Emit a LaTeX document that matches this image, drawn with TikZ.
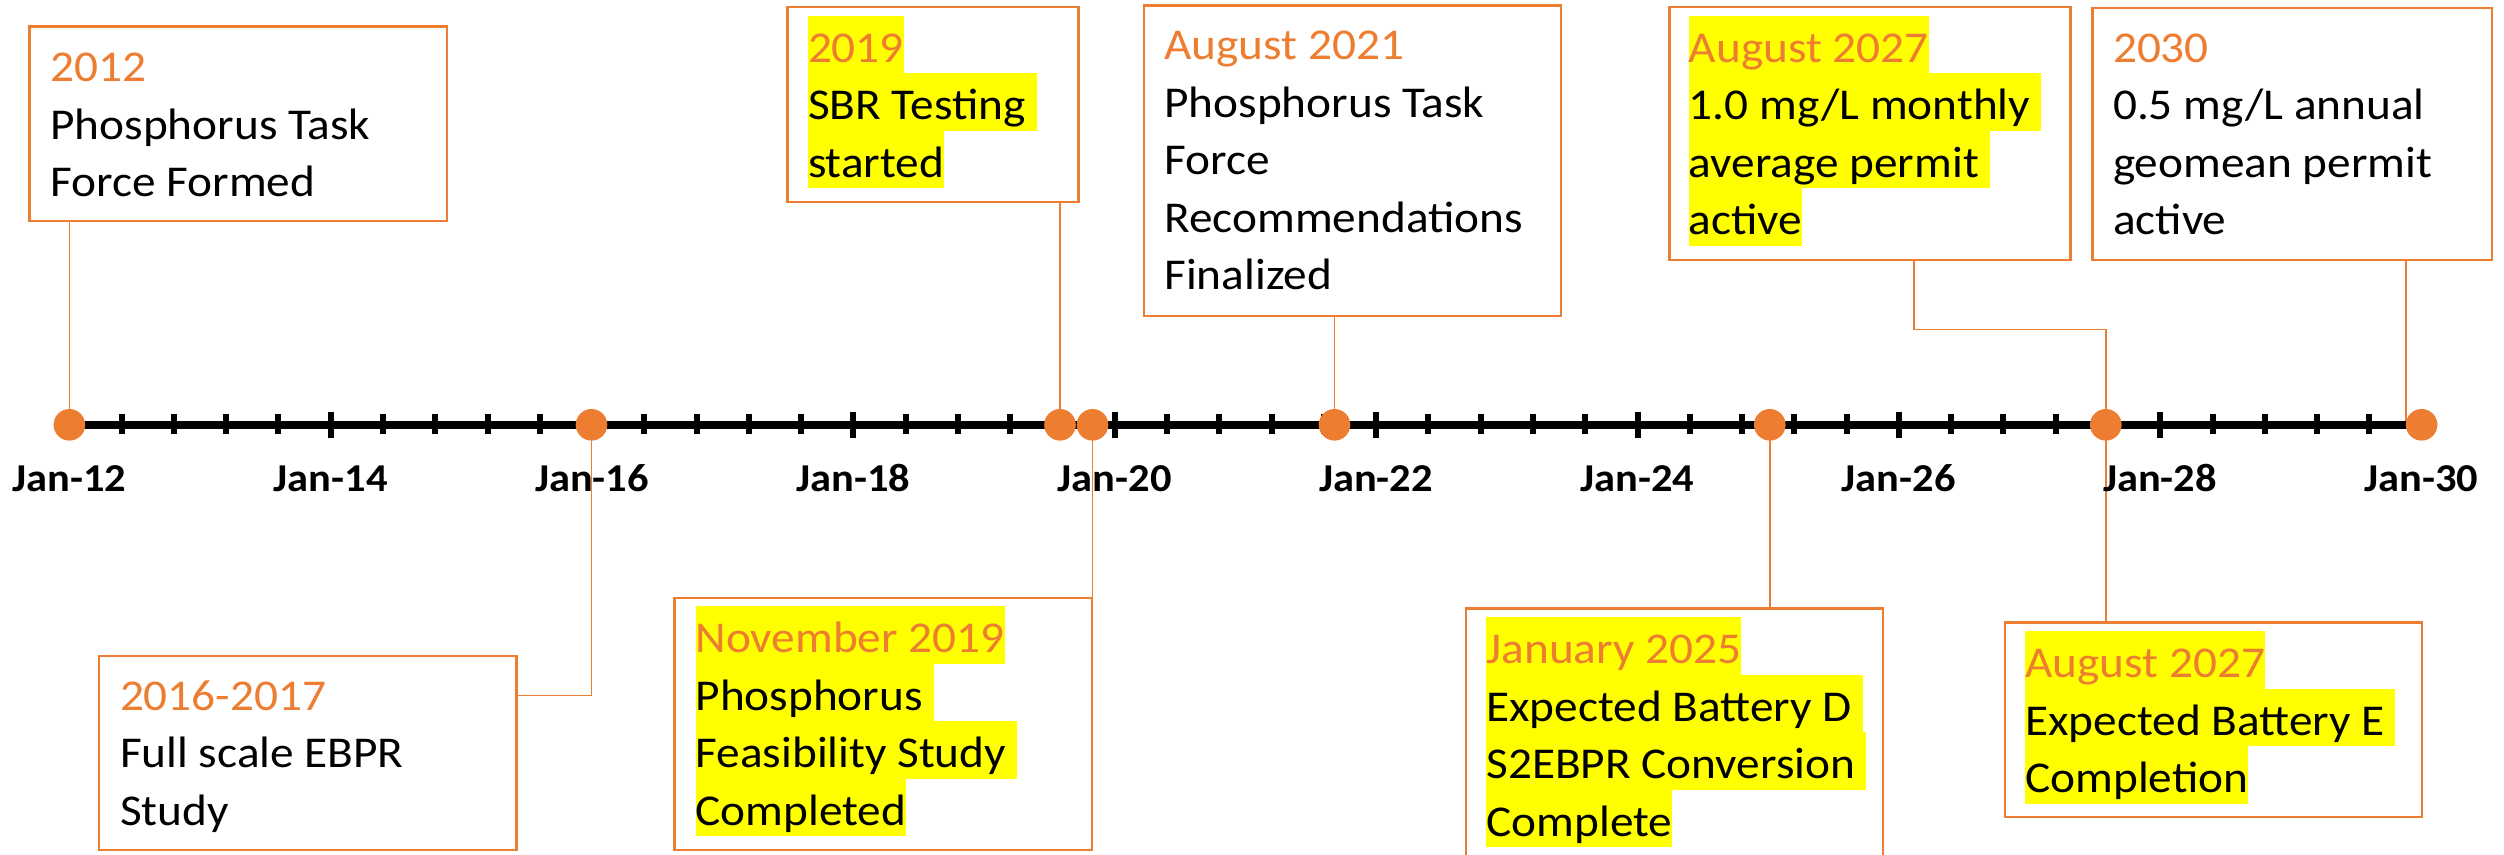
\documentclass[tikz,border=0pt]{standalone}
\usepackage{fontspec}
\setmainfont{Carlito}
\usepackage{graphicx}
\usetikzlibrary{fit}
\definecolor{tlorange}{RGB}{237,125,49}
\definecolor{hlyellow}{RGB}{255,255,0}
\newcommand{\sx}[1]{\scalebox{1.075}[1]{#1}}
\newcommand{\tsp}{\hspace{0.23em}}
\tikzset{
  box/.style={draw=tlorange, line width=1.2pt, fill=white, inner sep=0pt},
  conn/.style={draw=tlorange, line width=0.7pt},
  dot/.style={circle, fill=tlorange, inner sep=0pt, minimum size=15.8pt},
  txt/.style={inner sep=0pt, anchor=base west, font=\fontsize{22pt}{27pt}\selectfont},
  hl/.style={txt, fill=hlyellow, text height=23.25pt, text depth=5.5pt},
  dt/.style={text=tlorange},
  axl/.style={inner sep=0pt, anchor=base, font=\fontsize{19.75pt}{24pt}\selectfont\bfseries},
  minortick/.style={line width=3pt, black},
  majortick/.style={line width=3pt, black},
}
\begin{document}
\begin{tikzpicture}[x=0.5pt,y=-0.5pt]
\useasboundingbox (0,0) rectangle (2504,855);
\clip (0,0) rectangle (2504,855);

% dot coordinates
\coordinate (p12) at (69.4,424.8);
\coordinate (p16) at (591.5,424.8);
\coordinate (pSBR) at (1060,424.8);
\coordinate (pNov) at (1092.5,424.8);
\coordinate (p21) at (1334.5,424.8);
\coordinate (p25) at (1769.8,424.8);
\coordinate (p27) at (2105.8,424.8);
\coordinate (p30) at (2421.6,424.8);

% boxes
\node[box, fit={(29.5,26.7) (447.2,221)}] (B1) {};
\node[box, fit={(98.9,656) (516.6,850)}] (B2) {};
\node[box, fit={(787.6,7.3) (1078.6,202)}] (B3) {};
\node[box, fit={(1144,5.7) (1561,316)}] (B4) {};
\node[box, fit={(1669.3,7.3) (2070.3,260)}] (B5) {};
\node[box, fit={(2092.6,8.3) (2492,260)}] (B6) {};
\node[box, fit={(674.4,597.7) (1092.2,850)}] (B7) {};
\node[box, fit={(1466,608.3) (1883,900)}] (B8) {};
\node[box, fit={(2005,622.3) (2421.9,816.7)}] (B9) {};

% texts box 1
\node[txt,dt] (t1a) at (50,81.7) {\sx{2012}};
\node[txt] (t1b) at (50,139.2) {\sx{Phosphorus Task}};
\node[txt] (t1c) at (50,196.7) {\sx{Force Formed}};
% box 2
\node[txt,dt] (t2a) at (119.6,710) {\sx{2016-2017}};
\node[txt] (t2b) at (119.6,767.5) {\sx{Full scale EBPR}};
\node[txt] (t2c) at (119.6,825) {\sx{Study}};
% box 3
\node[hl,dt] (t3a) at (807.6,62.5) {\sx{2019}};
\node[hl] (t3b) at (807.6,120) {\sx{SBR Testing\tsp}};
\node[hl] (t3c) at (807.6,177.5) {\sx{started}};
% box 4
\node[txt,dt] (t4a) at (1164,60) {\sx{August 2021}};
\node[txt] (t4b) at (1164,117.5) {\sx{Phosphorus Task}};
\node[txt] (t4c) at (1164,175) {\sx{Force}};
\node[txt] (t4d) at (1164,232.5) {\sx{Recommendations}};
\node[txt] (t4e) at (1164,290) {\sx{Finalized}};
% box 5
\node[hl,dt] (t5a) at (1688.5,62.5) {\sx{August 2027}};
\node[hl] (t5b) at (1688.5,120) {\sx{1.0 mg/L monthly\tsp}};
\node[hl] (t5c) at (1688.5,177.5) {\sx{average permit\tsp}};
\node[hl] (t5d) at (1688.5,235) {\sx{active}};
% box 6
\node[txt,dt] (t6a) at (2112.6,62.5) {\sx{2030}};
\node[txt] (t6b) at (2112.6,120) {\sx{0.5 mg/L annual}};
\node[txt] (t6c) at (2112.6,177.5) {\sx{geomean permit}};
\node[txt] (t6d) at (2112.6,235) {\sx{active}};
% box 7
\node[hl,dt] (t7a) at (695.2,652.5) {\sx{November 2019}};
\node[hl] (t7b) at (695.2,710) {\sx{Phosphorus\tsp}};
\node[hl] (t7c) at (695.2,767.5) {\sx{Feasibility Study\tsp}};
\node[hl] (t7d) at (695.2,825) {\sx{Completed}};
% box 8
\node[hl,dt] (t8a) at (1486,663.8) {\sx{January 2025}};
\node[hl] (t8b) at (1486,721.3) {\sx{Expected Battery D\tsp}};
\node[hl] (t8c) at (1486,778.8) {\sx{S2EBPR Conversion\tsp}};
\node[hl] (t8d) at (1486,836.3) {\sx{Complete}};
% box 9
\node[hl,dt] (t9a) at (2024.9,677.5) {\sx{August 2027}};
\node[hl] (t9b) at (2024.9,735) {\sx{Expected Battery E\tsp}};
\node[hl] (t9c) at (2024.9,792.5) {\sx{Completion}};

% connectors
\draw[conn] (p12) -- (p12 |- B1.south);
\coordinate (k2) at (591.5,695.3);
\draw[conn] (p16) -- (k2) -- (k2 -| B2.east);
\draw[conn] (pSBR) -- (pSBR |- B3.south);
\draw[conn] (pNov) -- (pNov |- B7.north);
\draw[conn] (p21) -- (p21 |- B4.south);
\draw[conn] (p25) -- (p25 |- B8.north);
\draw[conn] (p27) -- (p27 |- B9.north);
\coordinate (k8) at (1914,329.3);
\draw[conn] (k8 |- B5.south) -- (k8) -- (k8 -| p27) -- (p27);
\coordinate (k9) at (2406,424.8);
\draw[conn] (k9 |- B6.south) -- (k9);

% timeline
\draw[line width=4.3pt, black] (p12) -- (p30);
\foreach \k in {1,...,44} {
  \draw[minortick] ({69.4+\k*52.27},414.3) -- ({69.4+\k*52.27},434.3);
}
\foreach \k in {5,10,...,40} {
  \draw[majortick] ({69.4+\k*52.27},411.7) -- ({69.4+\k*52.27},438.3);
}

% dots
\node[dot] (d12) at (p12) {};
\node[dot] (d16) at (p16) {};
\node[dot] (dSBR) at (pSBR) {};
\node[dot] (dNov) at (pNov) {};
\node[dot] (d21) at (p21) {};
\node[dot] (d25) at (p25) {};
\node[dot] (d27) at (p27) {};
\node[dot] (d30) at (p30) {};

% axis labels
\foreach \yr [count=\i from 0] in {12,14,...,30} {
  \node[axl] (L\yr) at ({69.4+\i*261.33},491.7) {\sx{Jan-\yr}};
}
\end{tikzpicture}
\end{document}
